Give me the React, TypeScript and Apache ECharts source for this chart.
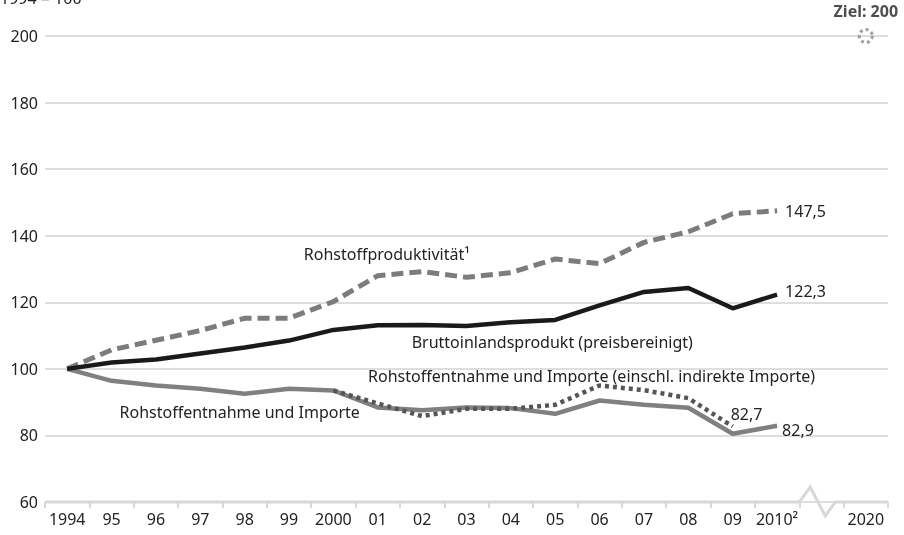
import React, { useEffect, useRef } from "react";
import * as echarts from "echarts";

const categories = ["1994", "95", "96", "97", "98", "99", "2000", "01", "02", "03", "04", "05", "06", "07", "08", "09", "2010²", "", "2020"];
const productivity = [100, 105.7, 108.6, 111.5, 115.2, 115.2, 120.2, 128, 129.2, 127.5, 128.9, 133, 131.6, 138, 141.2, 146.6, 147.5];
const gdp = [100, 101.9, 102.8, 104.6, 106.4, 108.5, 111.7, 113.1, 113.2, 112.9, 114, 114.7, 119.1, 123.1, 124.3, 118.2, 122.3];
const rawMaterials = [100, 96.4, 95, 94, 92.5, 94, 93.5, 88.4, 87.6, 88.4, 88.2, 86.5, 90.5, 89.2, 88.3, 80.5, 82.9];
const rawIndirect: (number | string)[] = ["-", "-", "-", "-", "-", "-", 93.5, 89.6, 85.8, 88, 88, 89.2, 95, 93.6, 91.2, 82.7];
const target: (number | string)[] = ["-", "-", "-", "-", "-", "-", "-", "-", "-", "-", "-", "-", "-", "-", "-", "-", "-", "-", 200];
const yTicks = { min: 60, max: 200, interval: 20 };

const FONT = "'Noto Sans', sans-serif";
const TXT = "#222";

export default function App() {
  const ref = useRef<HTMLDivElement>(null);
  useEffect(() => {
    if (!ref.current) return;
    const chart = echarts.init(ref.current, null, { renderer: "svg" });
    const ann = (coord: [string, number], text: string, offset: [number, number]) => ({
      coord,
      symbolSize: 0,
      label: { show: true, position: "inside", formatter: text, offset, color: TXT, fontSize: 16, fontFamily: FONT },
    });
    const option: any = {
      animation: false,
      textStyle: { fontFamily: FONT },
      grid: { left: 45, right: 16, top: 36, bottom: 33, containLabel: false },
      xAxis: {
        type: "category",
        data: categories,
        boundaryGap: true,
        axisLine: { show: false },
        axisTick: { show: true, length: 6, lineStyle: { color: "#d8d8d8", width: 2 } },
        axisLabel: { color: TXT, fontSize: 16, margin: 9, interval: 0, fontFamily: FONT },
        splitLine: { show: false },
      },
      yAxis: {
        type: "value",
        min: yTicks.min,
        max: yTicks.max,
        interval: yTicks.interval,
        axisLine: { show: false },
        axisTick: { show: false },
        axisLabel: { color: TXT, fontSize: 16, margin: 7, fontFamily: FONT },
        splitLine: { lineStyle: { color: "#dedede", width: 2 } },
      },
      series: [
        {
          type: "line",
          name: "Rohstoffproduktivität",
          data: productivity,
          symbol: "none",
          lineStyle: { color: "#7c7c7c", width: 5, type: [12, 6] },
          endLabel: { show: true, formatter: "147,5", color: TXT, fontSize: 16, distance: 8, fontFamily: FONT },
          markPoint: { symbol: "circle", data: [ann(["01", 134.5], "Rohstoffproduktivität¹", [9, 0])] },
          z: 3,
        },
        {
          type: "line",
          name: "BIP",
          data: gdp,
          symbol: "none",
          lineStyle: { color: "#1a1a1a", width: 4.5 },
          endLabel: { show: true, formatter: "122,3", color: TXT, fontSize: 16, distance: 8, offset: [0, -4], fontFamily: FONT },
          markPoint: { symbol: "circle", data: [ann(["05", 108.1], "Bruttoinlandsprodukt (preisbereinigt)", [-3, 0])] },
          z: 4,
        },
        {
          type: "line",
          name: "Rohstoffentnahme und Importe",
          data: rawMaterials,
          symbol: "none",
          lineStyle: { color: "#808080", width: 4.5 },
          endLabel: { show: true, formatter: "82,9", color: TXT, fontSize: 16, distance: 5, offset: [0, 4], fontFamily: FONT },
          markPoint: { symbol: "circle", data: [ann(["98", 87.1], "Rohstoffentnahme und Importe", [-5, 0])] },
          z: 2,
        },
        {
          type: "line",
          name: "indirekt",
          data: rawIndirect,
          symbol: "none",
          lineStyle: { color: "#555555", width: 4.5, type: [4, 4] },
          endLabel: { show: true, formatter: "82,7", color: TXT, fontSize: 16, distance: 0, offset: [-2, -12], fontFamily: FONT },
          markPoint: { symbol: "circle", data: [ann(["06", 97.9], "Rohstoffentnahme und Importe (einschl. indirekte Importe)", [-8, 0])] },
          z: 3,
        },
        {
          type: "scatter",
          name: "Ziel",
          data: target,
          symbol: "circle",
          symbolSize: 13,
          itemStyle: { color: "rgba(0,0,0,0)", borderColor: "#8a8a8a", borderWidth: 3, borderType: [3, 3] },
          label: { show: true, position: "top", distance: 9, formatter: "Ziel: 200", color: TXT, fontWeight: "bold", fontSize: 16, fontFamily: FONT },
          z: 5,
        },
      ],
    };
    chart.setOption(option);

    const y0 = chart.convertToPixel({ yAxisIndex: 0 }, yTicks.min) as number;
    const xa = chart.convertToPixel({ xAxisIndex: 0 }, 16) as number;
    const xb = chart.convertToPixel({ xAxisIndex: 0 }, 17) as number;
    const bw = xb - xa;
    const left = (chart.convertToPixel({ xAxisIndex: 0 }, 0) as number) - bw / 2;
    const right = (chart.convertToPixel({ xAxisIndex: 0 }, 18) as number) + bw / 2;
    const b = xa + bw / 2;
    const axisStyle = { stroke: "#d8d8d8", lineWidth: 3, fill: null };
    chart.setOption({
      graphic: [
        { type: "text", left: 0, top: -10, style: { text: "1994 = 100", fill: TXT, fontSize: 16, fontFamily: FONT } },
        { type: "line", shape: { x1: left, y1: y0, x2: b, y2: y0 }, style: axisStyle, z: 1 },
        {
          type: "polyline",
          shape: { points: [[b, y0], [b + 11, y0 - 15], [b + 26, y0 + 14], [b + 36, y0]] },
          style: axisStyle,
          z: 1,
        },
        { type: "line", shape: { x1: b + 36, y1: y0, x2: right, y2: y0 }, style: axisStyle, z: 1 },
      ],
    });
    return () => chart.dispose();
  }, []);
  return <div ref={ref} style={{ width: 904, height: 535, position: "fixed", left: 0, top: 0 }} />;
}
